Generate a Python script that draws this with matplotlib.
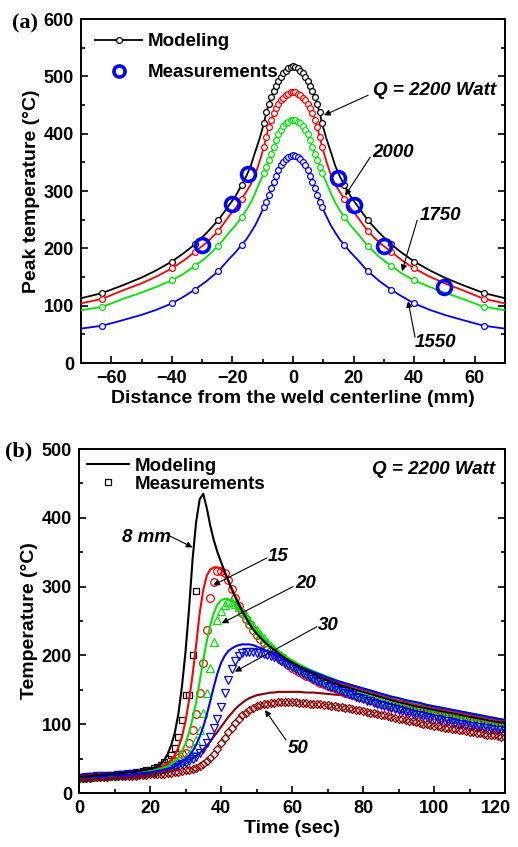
import numpy as np
import matplotlib
matplotlib.use("Agg")
import matplotlib.pyplot as plt
import matplotlib.transforms as mtransforms
from matplotlib.lines import Line2D
from matplotlib.ticker import MultipleLocator

plt.rcParams['font.family'] = ['Liberation Sans', 'DejaVu Sans']
plt.rcParams['font.weight'] = 'bold'

# ---------------- Panel (a) data: peak temperature vs distance ----------------
# half-profile positions (mm), curves are symmetric about the weld centerline
dist_half = [0, 0.8, 1.6, 2.4, 3.2, 4.0, 4.8, 5.6, 6.4, 7.2, 8.0, 8.8, 9.6, 11, 12.5,
             14, 15.5, 17, 19, 21, 24.7, 28.5, 32.4, 36, 40, 45, 50, 56, 63, 70]
marker_half = [True] * 13 + [False] * 4 + [True, False, False, True, False, True,
                                            False, True, False, False, False, True, False]
peak_2200 = [518, 517, 514, 510, 505, 499, 492, 484, 474, 464, 451, 437, 418, 392, 368,
             343, 325, 310, 291, 276, 249, 227, 207, 192, 177, 162, 149, 136, 122, 113]
peak_2000 = [473, 472, 470, 467, 463, 458, 452, 445, 436, 424, 412, 395, 377, 352, 328,
             311, 298, 286, 270, 257, 230, 210, 194, 179, 165, 151, 139, 127, 112, 104]
peak_1750 = [424, 423, 421, 418, 413, 407, 400, 389, 377, 365, 354, 342, 331, 315, 296,
             279, 266, 254, 240, 228, 204, 185, 169, 156, 144, 133, 123, 112, 98, 92]
peak_1550 = [362, 361, 359, 356, 351, 345, 337, 327, 315, 305, 293, 281, 272, 256, 240,
             227, 215, 206, 193, 182, 160, 143, 128, 116, 104, 93, 84, 75, 65, 60]
meas_dist = [-30, -20, -15, 15, 20, 30, 50]
meas_peak = [205, 277, 330, 322, 275, 204, 132]

# ---------------- Panel (b) data: thermal cycles ----------------
t_model = list(range(0, 21, 2)) + list(range(21, 61)) + list(range(62, 121, 2))
mod_8 = [23, 24, 25, 26, 27, 28, 29, 30, 31, 33, 35,
         36, 38, 42, 48, 57, 70, 88, 115, 155, 205, 268, 340, 394, 427, 435, 414, 388, 367, 350, 336,
         322, 309, 296, 285, 274, 264, 255, 246, 238, 232, 226, 221, 216, 212, 208, 204, 200, 196, 193, 190,
         184, 178, 173, 168, 164, 160, 156, 153, 150, 147, 144, 141, 138, 135, 132, 130, 127, 125, 123, 121,
         119, 117, 115, 113, 111, 109, 107, 105, 103, 102]
mod_15 = [23, 24, 25, 25, 26, 27, 28, 29, 30, 32, 33,
          34, 35, 37, 39, 43, 48, 55, 66, 82, 104, 135, 172, 215, 262, 295, 316, 325, 328, 328, 326,
          320, 310, 298, 286, 275, 265, 256, 247, 239, 233, 227, 222, 217, 213, 209, 205, 201, 198, 195, 192,
          186, 181, 176, 171, 167, 163, 159, 156, 153, 150, 147, 144, 141, 138, 135, 133, 130, 128, 126, 124,
          122, 120, 118, 116, 114, 112, 110, 108, 106, 104]
mod_20 = [23, 23, 24, 25, 25, 26, 27, 28, 29, 30, 32,
          33, 34, 35, 37, 39, 42, 46, 52, 60, 72, 88, 108, 132, 162, 193, 221, 244, 262, 274, 280,
          282, 282, 279, 274, 268, 262, 256, 249, 242, 236, 230, 225, 220, 215, 211, 207, 203, 200, 196, 193,
          187, 182, 177, 173, 169, 165, 161, 158, 155, 152, 149, 146, 143, 140, 137, 135, 132, 130, 128, 126,
          124, 122, 120, 118, 116, 114, 112, 110, 108, 106]
mod_30 = [23, 23, 24, 24, 25, 26, 26, 27, 28, 29, 30,
          31, 32, 33, 34, 35, 37, 39, 42, 45, 49, 54, 61, 70, 82, 96, 114, 134, 155, 174, 189,
          199, 206, 210, 213, 215, 216, 216, 216, 215, 213, 211, 209, 206, 204, 201, 199, 196, 194, 191, 189,
          184, 180, 176, 172, 168, 164, 161, 158, 155, 152, 149, 146, 143, 140, 138, 135, 133, 131, 128, 126,
          124, 122, 120, 118, 116, 114, 112, 110, 108, 106]
mod_50 = [23, 23, 23, 24, 24, 25, 25, 26, 26, 27, 28,
          28, 29, 30, 31, 32, 34, 36, 38, 40, 43, 46, 50, 54, 58, 63, 69, 75, 82, 89, 96,
          103, 110, 116, 122, 127, 131, 135, 138, 140, 142, 143, 144, 145, 146, 146, 147, 147, 147, 147, 147,
          147, 146, 146, 145, 144, 143, 142, 141, 140, 138, 136, 134, 132, 130, 128, 126, 124, 122, 120, 118,
          116, 114, 112, 110, 108, 106, 104, 102, 100, 98]

t_meas = list(range(0, 121))
meas_8 = [23, 23, 23, 24, 24, 24, 25, 25, 25, 26, 26, 27, 27, 28, 28, 29, 30, 31, 32, 33, 34,
          36, 38, 41, 45, 49, 55, 66, 82, 106, 143, 143, 201, 293]
meas_15 = [22, 22, 23, 23, 23, 24, 24, 24, 25, 25, 25, 26, 26, 27, 27, 28, 28, 29, 29, 30, 31,
           32, 33, 35, 37, 39, 42, 46, 51, 56, 58, 72, 91, 115, 146, 189, 237, 283, 307, 322, 323,
           320, 309, 296, 283, 272, 262, 253, 245, 237, 230, 224, 218, 212, 207, 202, 198, 194, 190, 186, 182,
           179, 176, 173, 170, 168, 165, 163, 160, 158, 156, 154, 152, 150, 148, 146, 144, 143, 141, 139, 138,
           136, 135, 133, 132, 130, 129, 128, 126, 125, 124, 123, 121, 120, 119, 118, 117, 116, 115, 114, 113,
           112, 111, 110, 109, 108, 107, 106, 105, 104, 103, 102, 101, 100, 99, 99, 98, 97, 96, 95, 95]
meas_20 = [22, 22, 23, 23, 23, 24, 24, 24, 25, 25, 25, 26, 26, 27, 27, 28, 28, 29, 29, 30, 31,
           32, 33, 35, 37, 39, 41, 43, 45, 47, 51, 56, 66, 77, 92, 116, 145, 181, 220, 251, 265,
           273, 278, 278, 275, 271, 265, 258, 251, 244, 237, 231, 225, 219, 214, 209, 204, 200, 196, 192, 188,
           185, 182, 179, 176, 173, 171, 168, 166, 163, 161, 159, 157, 155, 153, 151, 149, 147, 146, 144, 142,
           141, 139, 138, 136, 135, 133, 132, 131, 129, 128, 127, 126, 124, 123, 122, 121, 120, 119, 118, 117,
           116, 115, 114, 113, 112, 111, 110, 109, 108, 107, 106, 105, 104, 103, 102, 101, 101, 100, 99, 98]
meas_30 = [22, 22, 23, 23, 23, 24, 24, 24, 25, 25, 25, 26, 26, 26, 27, 27, 28, 28, 29, 29, 30,
           31, 32, 33, 34, 35, 37, 38, 40, 42, 44, 46, 49, 53, 58, 64, 72, 82, 94, 108, 125,
           145, 164, 180, 192, 199, 203, 205, 205, 205, 204, 203, 202, 200, 199, 197, 195, 192, 189, 186, 183,
           180, 177, 174, 171, 168, 166, 163, 161, 158, 156, 154, 152, 150, 148, 146, 144, 142, 140, 138, 136,
           134, 133, 131, 129, 128, 126, 125, 123, 122, 120, 119, 118, 116, 115, 114, 113, 112, 110, 109, 108,
           107, 106, 105, 104, 103, 102, 101, 100, 99, 98, 97, 96, 96, 95, 94, 93, 92, 92, 91, 90]
meas_50 = [22, 22, 22, 22, 23, 23, 23, 23, 23, 24, 24, 24, 24, 25, 25, 25, 25, 26, 26, 26, 27,
           27, 27, 28, 28, 29, 29, 30, 31, 32, 33, 34, 35, 37, 39, 42, 46, 51, 57, 64, 72,
           80, 88, 95, 102, 108, 113, 117, 121, 124, 126, 128, 129, 130, 131, 131, 132, 132, 132, 132, 132,
           132, 131, 131, 131, 130, 130, 129, 129, 128, 128, 127, 126, 125, 125, 124, 123, 122, 121, 120, 119,
           118, 117, 116, 115, 114, 113, 112, 110, 109, 108, 107, 106, 105, 104, 103, 102, 101, 100, 99, 98,
           97, 96, 95, 94, 93, 93, 92, 91, 90, 89, 88, 87, 87, 86, 85, 84, 84, 83, 82, 81]

# ---------------- figure ----------------
fig = plt.figure(figsize=(5.18, 8.47), dpi=100)
axa = fig.add_axes([81 / 518, 1 - 363 / 847, 424 / 518, 344 / 847])
axb = fig.add_axes([79 / 518, 1 - 793 / 847, 426 / 518, 344 / 847])

GREEN = '#00E600'
BROWN = '#8B0000'
FS = 13.5
TFS = 13

def mirror(vals):
    return list(vals[:0:-1]) + list(vals)

dist_full = [-d for d in dist_half[:0:-1]] + list(dist_half)
mark_full = mirror(marker_half)

for vals, col in [(peak_2200, 'black'), (peak_2000, 'red'), (peak_1750, GREEN), (peak_1550, 'blue')]:
    axa.plot(dist_full, mirror(vals), color=col, lw=1.3, marker='o', ms=4.2,
             mfc='white', mec=col, mew=0.9, markevery=mark_full, zorder=3)
axa.plot(meas_dist, meas_peak, ls='none', marker='o', ms=10, mfc='none', mec='blue',
         mew=2.6, zorder=4)

axa.set_xlim(-70, 70)
axa.set_ylim(0, 600)
axa.xaxis.set_major_locator(MultipleLocator(20))
axa.xaxis.set_minor_locator(MultipleLocator(10))
axa.yaxis.set_major_locator(MultipleLocator(100))
axa.yaxis.set_minor_locator(MultipleLocator(50))
axa.set_xlabel('Distance from the weld centerline (mm)', fontsize=14, fontweight='bold', labelpad=2)
axa.set_ylabel('Peak temperature (°C)', fontsize=14, fontweight='bold', labelpad=3)

h1 = Line2D([], [], color='black', lw=1.3, marker='o', ms=4.2, mfc='white', mec='black', mew=0.9)
h2 = Line2D([], [], ls='none', marker='o', ms=8, mfc='none', mec='blue', mew=2.6)
axa.legend([h1, h2], ['Modeling', 'Measurements'], loc='upper left', frameon=False,
           prop={'size': FS, 'weight': 'bold'}, handlelength=2.5, handletextpad=0.3,
           labelspacing=0.75, borderaxespad=0.3, borderpad=0.45)

tkw = dict(fontsize=FS, fontweight='bold', fontstyle='italic')
arw = dict(arrowstyle='-|>', color='black', lw=0.8, mutation_scale=9, shrinkA=0, shrinkB=0)
axa.text(26.4, 476, 'Q = 2200 Watt', ha='left', va='center', **tkw)
axa.annotate('', xy=(10.2, 432), xytext=(24.8, 467), arrowprops=arw)
axa.text(26.1, 368, '2000', ha='left', va='center', **tkw)
axa.annotate('', xy=(17.2, 292), xytext=(25.5, 359), arrowprops=arw)
axa.text(42, 258, '1750', ha='left', va='center', **tkw)
axa.annotate('', xy=(36, 160), xytext=(41, 249), arrowprops=arw)
axa.text(40.3, 35, '1550', ha='left', va='center', **tkw)
axa.annotate('', xy=(38, 108), xytext=(40.3, 45), arrowprops=arw)

# ---------------- panel (b) ----------------
axb.plot(t_model, mod_50, color=BROWN, lw=1.5, zorder=1)
axb.plot(t_meas[:len(meas_8)], meas_8, ls='none', marker='s', ms=5, mfc='none', mec='black', mew=0.9, zorder=2)
axb.plot(t_meas, meas_15, ls='none', marker='o', ms=5.5, mfc='none', mec='red', mew=0.9, zorder=2)
axb.plot(t_meas, meas_20, ls='none', marker='^', ms=6, mfc='none', mec=GREEN, mew=0.9, zorder=2)
axb.plot(t_meas, meas_30, ls='none', marker='v', ms=6, mfc='none', mec='blue', mew=0.9, zorder=2)
axb.plot(t_meas, meas_50, ls='none', marker='D', ms=4.5, mfc='none', mec=BROWN, mew=0.9, zorder=2)
for vals, col in [(mod_15, 'red'), (mod_20, GREEN), (mod_30, 'blue'), (mod_8, 'black')]:
    axb.plot(t_model, vals, color=col, lw=1.5, zorder=3)

axb.set_xlim(0, 120)
axb.set_ylim(0, 500)
axb.xaxis.set_major_locator(MultipleLocator(20))
axb.xaxis.set_minor_locator(MultipleLocator(10))
axb.yaxis.set_major_locator(MultipleLocator(100))
axb.yaxis.set_minor_locator(MultipleLocator(50))
axb.set_xlabel('Time (sec)', fontsize=14, fontweight='bold', labelpad=2)
axb.set_ylabel('Temperature (°C)', fontsize=14, fontweight='bold', labelpad=3)

g1 = Line2D([], [], color='black', lw=1.5)
g2 = Line2D([], [], ls='none', marker='s', ms=5, mfc='none', mec='black', mew=0.9)
axb.legend([g1, g2], ['Modeling', 'Measurements'], loc='upper left', frameon=False,
           prop={'size': FS, 'weight': 'bold'}, handlelength=2.2, handletextpad=0.35,
           labelspacing=0.05, borderaxespad=0.2, borderpad=0.25)

axb.text(117.2, 469.5, 'Q = 2200 Watt', ha='right', va='center', **tkw)
axb.text(12.1, 372, '8 mm', ha='left', va='center', **tkw)
axb.annotate('', xy=(32.0, 357), xytext=(25.6, 373.5), arrowprops=arw)
axb.text(53.2, 343.5, '15', ha='left', va='center', **tkw)
axb.annotate('', xy=(37.8, 302), xytext=(52.9, 341.6), arrowprops=arw)
axb.text(60.8, 305, '20', ha='left', va='center', **tkw)
axb.annotate('', xy=(40.2, 246.7), xytext=(60.3, 300), arrowprops=arw)
axb.text(67.3, 244, '30', ha='left', va='center', **tkw)
axb.annotate('', xy=(43.9, 176.3), xytext=(67, 241.7), arrowprops=arw)
axb.text(58.9, 64, '50', ha='left', va='center', **tkw)
axb.annotate('', xy=(52.4, 120.6), xytext=(58.3, 77), arrowprops=arw)

for ax in (axa, axb):
    for s in ax.spines.values():
        s.set_linewidth(1.4)
    ax.tick_params(which='both', direction='in', top=False, right=True, width=1.2)
    ax.tick_params(which='major', length=5, labelsize=TFS, pad=5)
    ax.tick_params(which='minor', length=3)

fig.canvas.draw()
for ax in (axa, axb):
    for lab in ax.get_xticklabels() + ax.get_yticklabels():
        lab.set_fontweight('bold')
# keep the last time tick label inside the figure
last = [lab for lab in axb.get_xticklabels() if lab.get_text() in ('120', '\u2212120')]
for lab in last:
    lab.set_transform(lab.get_transform() + mtransforms.ScaledTranslation(-9 / 100, 0, fig.dpi_scale_trans))

fig.text(12 / 518, 1 - 23 / 847, '(a)', family=['Liberation Serif'], fontsize=16,
         fontweight='bold', ha='left', va='center')
fig.text(5 / 518, 1 - 451 / 847, '(b)', family=['Liberation Serif'], fontsize=16,
         fontweight='bold', ha='left', va='center')

fig.savefig('out.png', dpi=100)
